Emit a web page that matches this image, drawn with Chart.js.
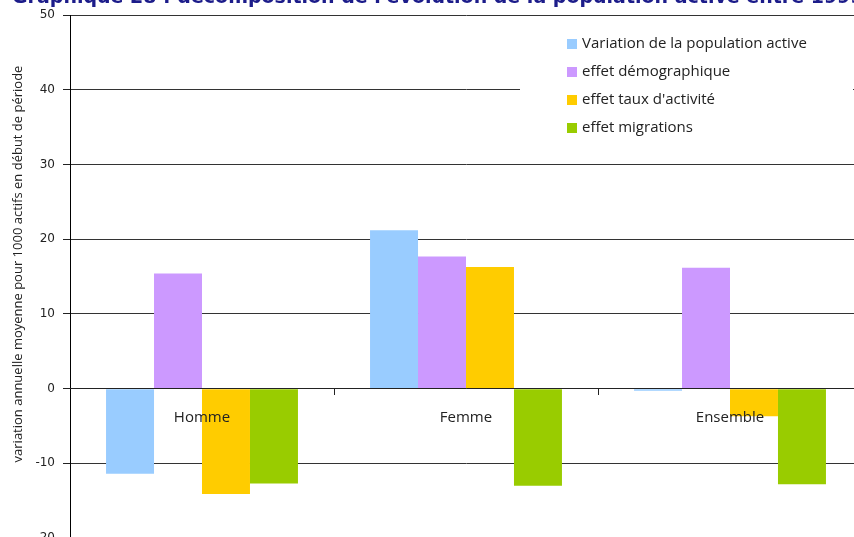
<!DOCTYPE html>
<html>
<head>
<meta charset="utf-8">
<script src="https://cdn.jsdelivr.net/npm/chart.js@4"></script>
<style>
    html, body { margin: 0; padding: 0; background: #fff; overflow: hidden; }
    #wrap { position: absolute; left: 0; top: 0; width: 880px; height: 560px; }
</style>
</head>
<body>
<div id="wrap"><canvas id="chart" width="880" height="560"></canvas></div>
<script>
const categories = ['Homme', 'Femme', 'Ensemble'];
const seriesLabels = [
    'Variation de la population active',
    'effet démographique',
    "effet taux d'activité",
    'effet migrations'
];
const variationActive = [-11.4, 21.2, -0.3];
const effetDemo = [15.4, 17.7, 16.2];
const effetTaux = [-14.1, 16.3, -3.7];
const effetMigrations = [-12.7, -13.0, -12.8];
const seriesColors = ['#99CCFF', '#CC99FF', '#FFCC00', '#99CC00'];
const yTicks = { min: -20, max: 50, step: 10 };

const titleText = "Graphique 28 : décomposition de l'évolution de la population active entre 1999 et 2006";
const yTitle = 'variation annuelle moyenne pour 1000 actifs en début de période';

// titre, titre d'axe et légende dessinés à la main
const decorPlugin = {
    id: 'decor',
    afterDraw(chart) {
        const ctx = chart.ctx;
        ctx.save();

        ctx.fillStyle = '#1c1c8a';
        ctx.font = 'bold 19px "DejaVu Sans"';
        ctx.textBaseline = 'alphabetic';
        ctx.textAlign = 'left';
        ctx.fillText(titleText, 12, 3);

        ctx.save();
        ctx.translate(18, 264);
        ctx.rotate(-Math.PI / 2);
        ctx.fillStyle = '#222';
        ctx.font = '13px "Open Sans"';
        ctx.textAlign = 'center';
        ctx.textBaseline = 'middle';
        ctx.fillText(yTitle, 0, 0);
        ctx.restore();

        ctx.fillStyle = '#fff';
        ctx.fillRect(520, 28, 333, 118);
        ctx.font = '15px "Open Sans"';
        ctx.textBaseline = 'middle';
        chart.data.datasets.forEach((ds, i) => {
            const y = 44 + i * 28;
            ctx.fillStyle = ds.backgroundColor;
            ctx.fillRect(567, y - 5, 10, 10);
            ctx.fillStyle = '#222';
            ctx.fillText(ds.label, 582, y);
        });
        ctx.restore();
    }
};

const allSeries = [variationActive, effetDemo, effetTaux, effetMigrations];

new Chart(document.getElementById('chart'), {
    type: 'bar',
    data: {
        labels: categories,
        datasets: allSeries.map((values, i) => ({
            label: seriesLabels[i],
            data: values,
            backgroundColor: seriesColors[i],
            borderWidth: 0,
            barPercentage: 1,
            categoryPercentage: 0.727
        }))
    },
    options: {
        responsive: false,
        animation: false,
        devicePixelRatio: 1,
        layout: { padding: { top: 14, bottom: 22, left: 10, right: 18 } },
        plugins: {
            legend: { display: false },
            title: { display: false },
            tooltip: { enabled: false }
        },
        scales: {
            x: {
                position: { y: 0 },
                offset: true,
                grid: {
                    display: true,
                    offset: true,
                    drawOnChartArea: false,
                    drawTicks: true,
                    tickLength: 6,
                    tickColor: '#222'
                },
                border: { display: true, color: '#222', width: 1, z: 1 },
                ticks: {
                    z: 1,
                    color: '#222',
                    font: { family: 'Open Sans', size: 15 },
                    padding: 14
                }
            },
            y: {
                min: yTicks.min,
                max: yTicks.max,
                afterFit(scale) { scale.width = 60; },
                grid: {
                    color: '#333',
                    lineWidth: 1,
                    drawTicks: true,
                    tickLength: 7,
                    tickColor: '#222'
                },
                border: { display: true, color: '#000', width: 1 },
                ticks: {
                    stepSize: yTicks.step,
                    color: '#222',
                    font: { family: 'DejaVu Sans', size: 12 },
                    padding: 8
                }
            }
        }
    },
    plugins: [decorPlugin]
});
</script>
</body>
</html>
